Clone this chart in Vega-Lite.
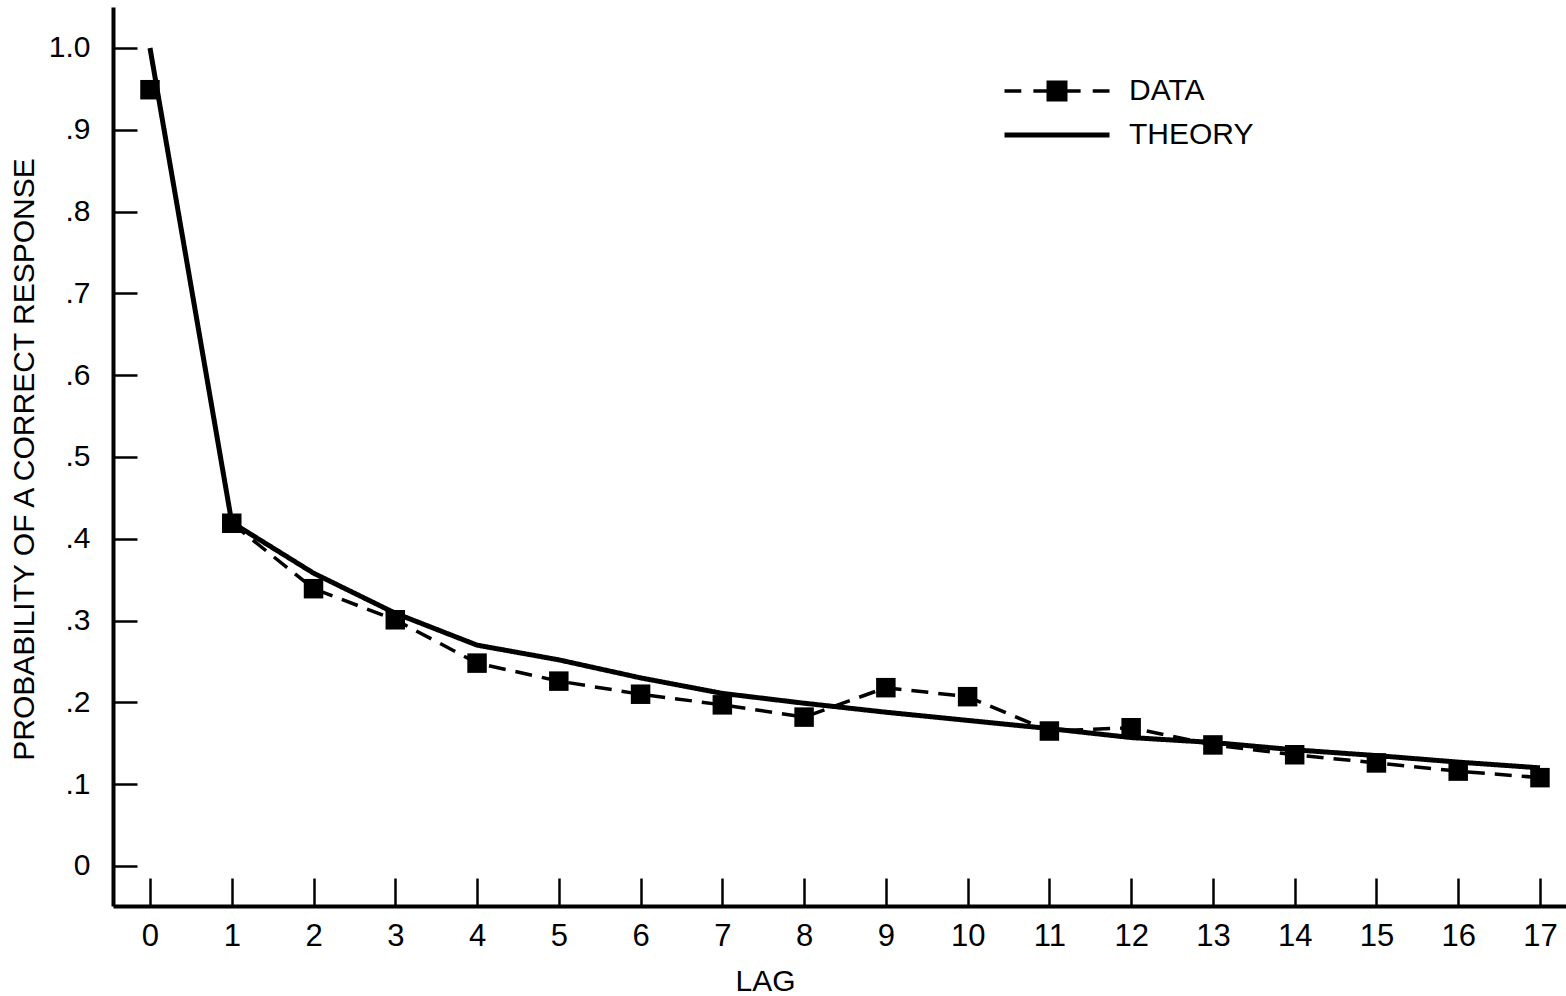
{
  "$schema": "https://vega.github.io/schema/vega-lite/v6.json",
  "width": 1453,
  "height": 899,
  "autosize": {"type": "none"},
  "padding": {"left": 113, "top": 7, "right": 0, "bottom": 90},
  "background": "white",
  "config": {"view": {"stroke": null}, "font": "Liberation Sans"},
  "data": {
    "values": [
      {"lag": 0, "p": 0.949, "series": "DATA"},
      {"lag": 1, "p": 0.419, "series": "DATA"},
      {"lag": 2, "p": 0.339, "series": "DATA"},
      {"lag": 3, "p": 0.301, "series": "DATA"},
      {"lag": 4, "p": 0.248, "series": "DATA"},
      {"lag": 5, "p": 0.226, "series": "DATA"},
      {"lag": 6, "p": 0.21, "series": "DATA"},
      {"lag": 7, "p": 0.197, "series": "DATA"},
      {"lag": 8, "p": 0.182, "series": "DATA"},
      {"lag": 9, "p": 0.218, "series": "DATA"},
      {"lag": 10, "p": 0.207, "series": "DATA"},
      {"lag": 11, "p": 0.165, "series": "DATA"},
      {"lag": 12, "p": 0.169, "series": "DATA"},
      {"lag": 13, "p": 0.148, "series": "DATA"},
      {"lag": 14, "p": 0.136, "series": "DATA"},
      {"lag": 15, "p": 0.126, "series": "DATA"},
      {"lag": 16, "p": 0.116, "series": "DATA"},
      {"lag": 17, "p": 0.108, "series": "DATA"},
      {"lag": 0, "p": 1.0, "series": "THEORY"},
      {"lag": 1, "p": 0.42, "series": "THEORY"},
      {"lag": 2, "p": 0.358, "series": "THEORY"},
      {"lag": 3, "p": 0.309, "series": "THEORY"},
      {"lag": 4, "p": 0.27, "series": "THEORY"},
      {"lag": 5, "p": 0.252, "series": "THEORY"},
      {"lag": 6, "p": 0.23, "series": "THEORY"},
      {"lag": 7, "p": 0.211, "series": "THEORY"},
      {"lag": 8, "p": 0.199, "series": "THEORY"},
      {"lag": 9, "p": 0.188, "series": "THEORY"},
      {"lag": 10, "p": 0.178, "series": "THEORY"},
      {"lag": 11, "p": 0.168, "series": "THEORY"},
      {"lag": 12, "p": 0.157, "series": "THEORY"},
      {"lag": 13, "p": 0.151, "series": "THEORY"},
      {"lag": 14, "p": 0.142, "series": "THEORY"},
      {"lag": 15, "p": 0.135, "series": "THEORY"},
      {"lag": 16, "p": 0.127, "series": "THEORY"},
      {"lag": 17, "p": 0.12, "series": "THEORY"}
    ]
  },
  "encoding": {
    "x": {
      "field": "lag",
      "type": "quantitative",
      "scale": {"domain": [-0.4525, 17.3185], "nice": false, "zero": false},
      "axis": {
        "values": [0,1,2,3,4,5,6,7,8,9,10,11,12,13,14,15,16,17],
        "grid": false,
        "tickSize": -28,
        "tickWidth": 2.5,
        "tickColor": "black",
        "domainColor": "black",
        "domainWidth": 4,
        "labelFontSize": 31,
        "labelColor": "black",
        "labelPadding": 43,
        "labelFlush": false,
        "labelBaseline": "top",
        "title": "LAG",
        "titleFontSize": 30,
        "titleFontWeight": "normal",
        "titleColor": "black",
        "titleX": 652,
        "titleY": 84,
        "titleBaseline": "alphabetic",
        "titleAlign": "center"
      }
    },
    "y": {
      "field": "p",
      "type": "quantitative",
      "scale": {"domain": [-0.0489, 1.0501], "nice": false, "zero": false},
      "axis": {
        "values": [0, 0.1, 0.2, 0.3, 0.4, 0.5, 0.6, 0.7, 0.8, 0.9, 1],
        "labelExpr": "datum.value == 0 ? '0' : (datum.value >= 0.999 ? '1.0' : replace(format(datum.value, '.1f'), '0.', '.'))",
        "grid": false,
        "tickSize": -24,
        "tickWidth": 2.5,
        "tickColor": "black",
        "domainColor": "black",
        "domainWidth": 4,
        "labelFontSize": 30,
        "labelColor": "black",
        "labelPadding": 47,
        "labelFlush": false,
        "title": "PROBABILITY OF A CORRECT RESPONSE",
        "titleFontSize": 30,
        "titleFontWeight": "normal",
        "titleColor": "black",
        "titleX": -80,
        "titleY": 452,
        "titleAngle": -90,
        "titleBaseline": "alphabetic",
        "titleAlign": "center"
      }
    }
  },
  "layer": [
    {
      "transform": [{"filter": "!(datum.series === 'DATA' && datum.lag === 0)"}],
      "mark": {"type": "line", "color": "black"},
      "encoding": {
        "strokeDash": {
          "field": "series",
          "type": "nominal",
          "scale": {"domain": ["DATA", "THEORY"], "range": [[17, 10], [1, 0]]},
          "legend": {
            "values": ["DATA"],
            "orient": "none",
            "legendX": 929,
            "legendY": 69,
            "title": null,
            "padding": 0,
            "symbolType": "M-5,0H-3.4M-2.25,0H-0.75M-0.75,0H0.75M0.75,0H2.25M3.4,0H5M-1,-0.83H0M0,-0.83H1M-1,-0.5H0M0,-0.5H1M-1,-0.17H0M0,-0.17H1M-1,0.17H0M0,0.17H1M-1,0.5H0M0,0.5H1M-1,0.83H0M0,0.83H1",
            "symbolSize": 441,
            "symbolStrokeWidth": 3.5,
            "symbolStrokeColor": "black",
            "labelFontSize": 30,
            "labelColor": "black",
            "labelOffset": 57
          }
        },
        "strokeWidth": {
          "field": "series",
          "type": "nominal",
          "scale": {"domain": ["THEORY", "DATA"], "range": [5, 3.5]},
          "legend": {
            "values": ["THEORY"],
            "orient": "none",
            "legendX": 929,
            "legendY": 113,
            "title": null,
            "padding": 0,
            "symbolType": "M-5,0H5",
            "symbolSize": 441,
            "symbolStrokeColor": "black",
            "labelFontSize": 30,
            "labelColor": "black",
            "labelOffset": 57
          }
        }
      }
    },
    {
      "transform": [{"filter": "datum.series === 'DATA'"}],
      "mark": {"type": "point", "shape": "square", "filled": true, "color": "black", "size": 380, "opacity": 1}
    }
  ]
}
